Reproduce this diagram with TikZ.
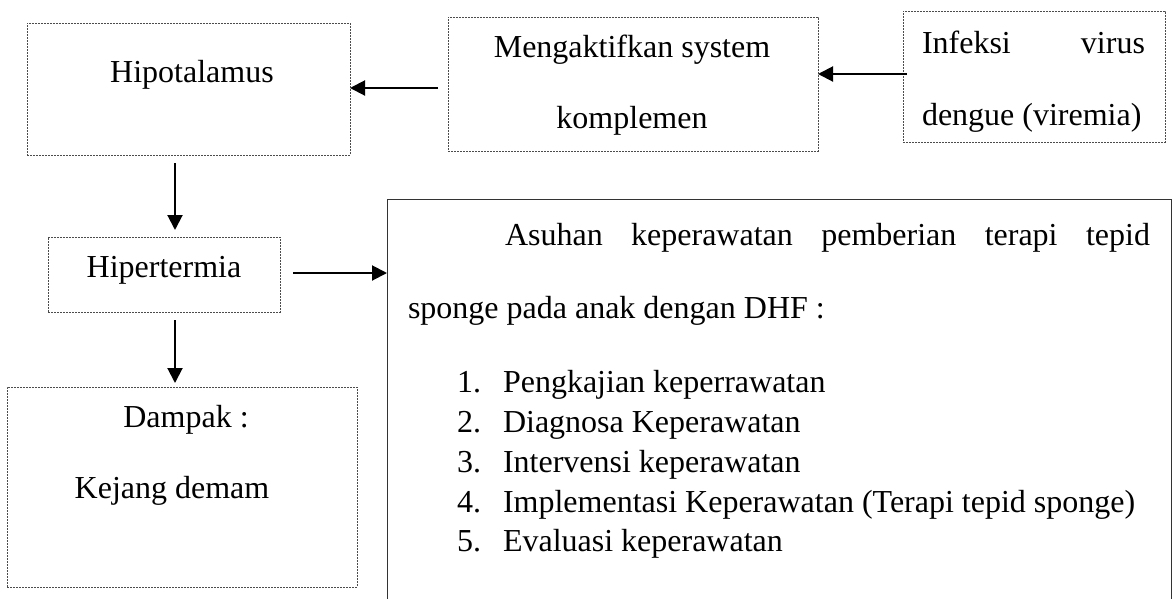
\documentclass[tikz,border=0pt]{standalone}
\usepackage{fontspec}
\setmainfont{Liberation Serif}
\usetikzlibrary{arrows.meta}
\tikzset{
  dotbox/.style={draw=black!70, line width=0.9pt, dash pattern=on 1.6pt off 1.4pt, inner sep=0pt, outer sep=0pt, anchor=north west},
  solidbox/.style={draw=none, inner sep=0pt, outer sep=0pt, anchor=north west},
  txt/.style={inner sep=0pt, outer sep=0pt, anchor=base, font=\fontsize{32}{38}\selectfont},
  txtl/.style={txt, anchor=base west},
  arr/.style={line width=2pt, -{Triangle[length=15pt,width=15pt]}}
}
\begin{document}
\begin{tikzpicture}[x=1pt,y=-1pt]
\path[use as bounding box, fill=white] (0,0) rectangle (1173,598);

% boxes
\node[dotbox, minimum width=323pt, minimum height=132pt] (hipbox) at (27,23) {};
\node[dotbox, minimum width=370pt, minimum height=134pt] (mkbox) at (448,17) {};
\node[dotbox, minimum width=262pt, minimum height=131pt] (infbox) at (903,11) {};
\node[dotbox, minimum width=232pt, minimum height=75pt] (hpbox) at (48,237) {};
\node[dotbox, minimum width=350pt, minimum height=200pt] (dbox) at (7,387) {};
\node[solidbox, minimum width=784pt, minimum height=402pt] (care) at (387,199) {};
\draw[black!80, line width=1pt] (care.south west) -- (care.north west) -- (care.north east) -- (care.south east);

% texts
\node[txt] (thip) at (192,82) {Hipotalamus};
\node[txt] (tmk1) at (632,57) {Mengaktifkan system};
\node[txt] (tmk2) at (632,128) {komplemen};
\node[txtl] (tinf1) at (922,53) {\hbox to 223pt{Infeksi\hfill virus}};
\node[txtl] (tinf2) at (922,125) {dengue (viremia)};
\node[txt] (thp) at (164,277) {Hipertermia};
\node[txt] (td1) at (186,427) {Dampak :};
\node[txt] (td2) at (172,498) {Kejang demam};

\node[txtl] (c1) at (505,245) {\hbox to 645pt{Asuhan\hfill keperawatan\hfill pemberian\hfill terapi\hfill tepid}};
\node[txtl] (c2) at (408,318) {sponge pada anak dengan DHF :};

\node[txtl] (n1) at (457,392) {1.};
\node[txtl] (l1) at (503,392) {Pengkajian keperrawatan};
\node[txtl] (n2) at (457,432) {2.};
\node[txtl] (l2) at (503,432) {Diagnosa Keperawatan};
\node[txtl] (n3) at (457,472) {3.};
\node[txtl] (l3) at (503,472) {Intervensi keperawatan};
\node[txtl] (n4) at (457,512) {4.};
\node[txtl] (l4) at (503,512) {Implementasi Keperawatan (Terapi tepid sponge)};
\node[txtl] (n5) at (457,551) {5.};
\node[txtl] (l5) at (503,551) {Evaluasi keperawatan};

% connectors
\coordinate (a1) at (907,74);
\draw[arr] (a1) -- (mkbox.east |- a1);
\coordinate (a2) at (438,88);
\draw[arr] (a2) -- (hipbox.east |- a2);
\coordinate (a3) at (175,163);
\draw[arr, shorten >=7pt] (a3) -- (a3 |- hpbox.north);
\coordinate (a4) at (293,273);
\draw[arr] (a4) -- (care.west |- a4);
\coordinate (a5) at (175,320);
\draw[arr, shorten >=4pt] (a5) -- (a5 |- dbox.north);
\end{tikzpicture}
\end{document}
